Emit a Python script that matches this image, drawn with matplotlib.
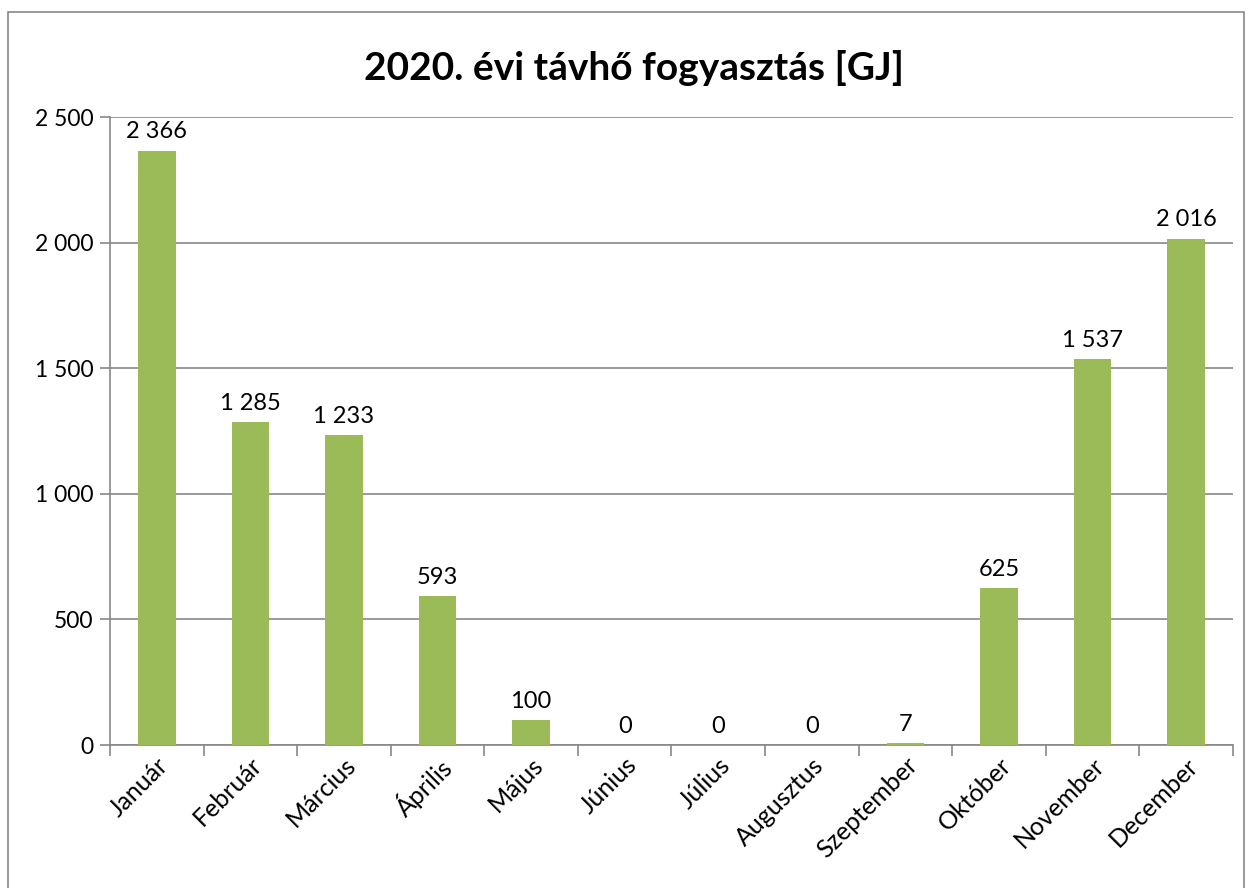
import matplotlib.pyplot as plt
from matplotlib.patches import Rectangle

months = ['Január', 'Február', 'Március', 'Április', 'Május', 'Június',
          'Július', 'Augusztus', 'Szeptember', 'Október', 'November', 'December']
values = [2366, 1285, 1233, 593, 100, 0, 0, 0, 7, 625, 1537, 2016]
yticks = [0, 500, 1000, 1500, 2000, 2500]
ytick_labels = ['0', '500', '1 000', '1 500', '2 000', '2 500']

plt.rcParams['font.family'] = ['Lato', 'DejaVu Sans']

fig = plt.figure(figsize=(12.52, 8.88), dpi=100)
# outer chart border
fig.patches.append(Rectangle((8 / 1252, -0.01), 1236 / 1252, 1 - 12 / 888 + 0.01,
                             transform=fig.transFigure, fill=False,
                             edgecolor='#888888', linewidth=1.2))

ax = fig.add_axes([110 / 1252, 1 - 745 / 888, (1233 - 110) / 1252, (745 - 117) / 888])
x = range(len(months))
ax.bar(x, values, width=0.4, color='#9BBB59', zorder=3)

for i, v in enumerate(values):
    ax.annotate(f'{v:,}'.replace(',', ' '), (i, v), xytext=(0, 6),
                textcoords='offset points', ha='center', va='bottom', fontsize=17)

ax.set_xlim(-0.5, len(months) - 0.5)
ax.set_ylim(0, 2500)
ax.set_yticks(yticks)
ax.set_yticklabels(ytick_labels, fontsize=16.5)
ax.set_xticks([i - 0.5 for i in range(len(months) + 1)], minor=False)
ax.set_xticklabels([])
ax.set_xticks(list(x), minor=True)
ax.set_xticklabels(months, minor=True, rotation=45, ha='right',
                   rotation_mode='anchor', fontsize=18)
ax.tick_params(axis='x', which='minor', length=0, pad=6)
ax.tick_params(axis='x', which='major', length=8, color='#888888', width=1.2)
ax.tick_params(axis='y', length=7, color='#888888', width=1.2, pad=5)

ax.grid(axis='y', color='#888888', linewidth=1.2, zorder=0)
for side in ['top', 'right']:
    ax.spines[side].set_visible(False)
for side in ['left', 'bottom']:
    ax.spines[side].set_color('#888888')
    ax.spines[side].set_linewidth(1.2)

fig.text(0.5 + 8 / 1252, 1 - 68 / 888, '2020. évi távhő fogyasztás [GJ]',
         ha='center', va='center', fontsize=28, fontweight='bold')

fig.savefig('out.png', dpi=100)
